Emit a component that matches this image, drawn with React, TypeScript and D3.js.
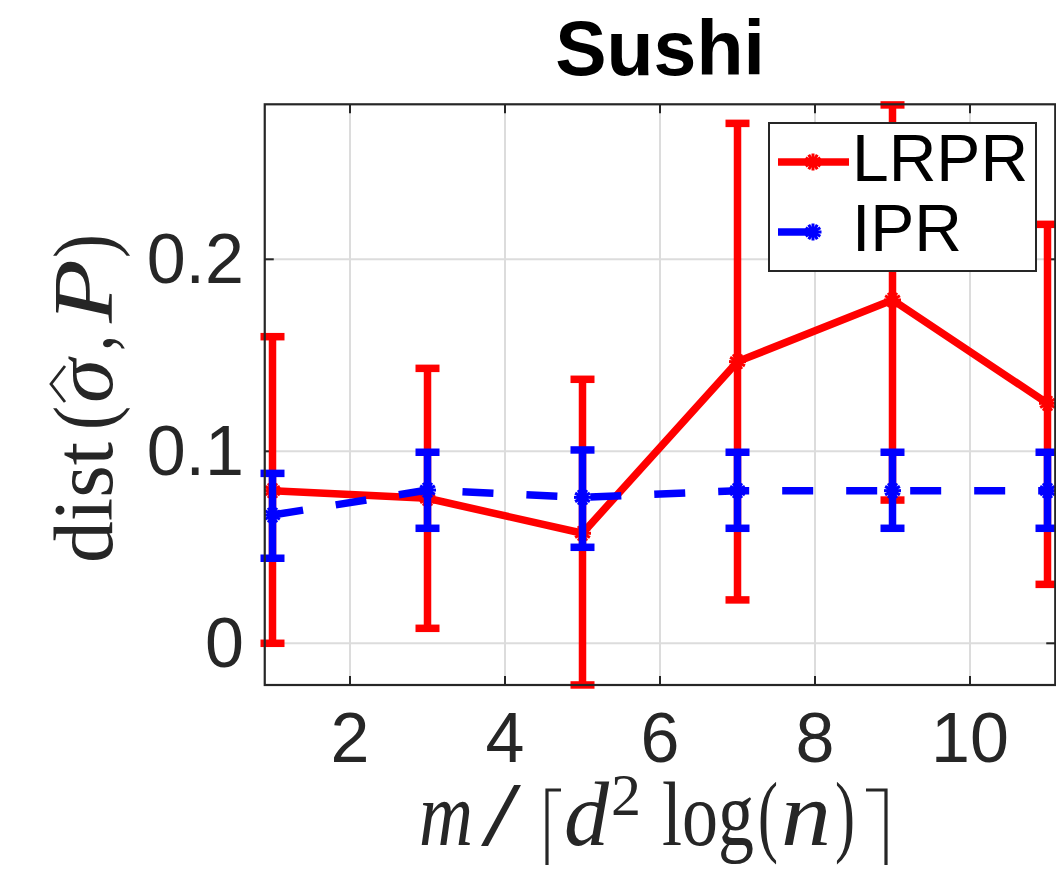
import React from "react";
import * as d3 from "d3";

const xs = [1, 3, 5, 7, 9, 11];
const lrprMean = [0.0795, 0.0755, 0.0573, 0.1467, 0.1788, 0.125];
const lrprLow = [0.0, 0.0078, -0.0217, 0.0226, 0.0746, 0.0307];
const lrprHigh = [0.1597, 0.1432, 0.1375, 0.2708, 0.2804, 0.2182];
const iprMean = [0.0668, 0.0798, 0.076, 0.0795, 0.0795, 0.0795];
const iprLow = [0.0443, 0.0599, 0.05, 0.0599, 0.0599, 0.0599];
const iprHigh = [0.0885, 0.0995, 0.1007, 0.0995, 0.0995, 0.0995];
const xTicks = [2, 4, 6, 8, 10];
const yTicks = [0, 0.1, 0.2];
const yTickLabels = ["0", "0.1", "0.2"];
const seriesNames = ["LRPR", "IPR"];

const W = 1056;
const H = 876;
const L = 264.75, R = 1055.25, T = 104.3, B = 685;

const x = d3.scaleLinear().domain([0.9, 11.1]).range([L, R]);
const y = d3.scaleLinear().domain([-0.02172, 0.28073]).range([B, T]);

const AX = "#262626";
const SANS = "'Liberation Sans', Arial, Helvetica, sans-serif";
const SERIF = "'Liberation Serif', 'Times New Roman', serif";

function Star({ cx, cy, color }: { cx: number; cy: number; color: string }) {
  const r = 8.5;
  const angles = [0, 30, 60, 90, 120, 150];
  return (
    <g stroke={color} strokeWidth={3}>
      {angles.map((a) => {
        const rad = (a * Math.PI) / 180;
        return (
          <line key={a} x1={cx - r * Math.cos(rad)} y1={cy - r * Math.sin(rad)} x2={cx + r * Math.cos(rad)} y2={cy + r * Math.sin(rad)} />
        );
      })}
      <circle cx={cx} cy={cy} r={5.5} fill={color} stroke="none" />
    </g>
  );
}

function Series({ mean, low, high, color, dashed }: { mean: number[]; low: number[]; high: number[]; color: string; dashed?: boolean }) {
  const line = d3.line<number>().x((_, i) => x(xs[i])).y((d) => y(d));
  const cap = 12;
  return (
    <g>
      {xs.map((xv, i) => (
        <g key={i} stroke={color} strokeWidth={7.5}>
          <line x1={x(xv)} x2={x(xv)} y1={y(low[i])} y2={y(high[i])} />
          <line x1={x(xv) - cap} x2={x(xv) + cap} y1={y(low[i])} y2={y(low[i])} />
          <line x1={x(xv) - cap} x2={x(xv) + cap} y1={y(high[i])} y2={y(high[i])} />
        </g>
      ))}
      <path d={line(mean) || ""} fill="none" stroke={color} strokeWidth={7.5} strokeDasharray={dashed ? "31,33" : undefined} />
      {xs.map((xv, i) => (
        <Star key={i} cx={x(xv)} cy={y(mean[i])} color={color} />
      ))}
    </g>
  );
}

export default function App() {
  return (
    <div style={{ position: "fixed", left: 0, top: 0, width: W, height: H, background: "#fff" }}>
      <svg width={W} height={H} viewBox={`0 0 ${W} ${H}`} style={{ display: "block" }}>
        <rect x={0} y={0} width={W} height={H} fill="#fff" />
        {/* grid */}
        <g stroke="#dcdcdc" strokeWidth={2}>
          {xTicks.map((t) => (
            <line key={t} x1={x(t)} x2={x(t)} y1={T} y2={B} />
          ))}
          {yTicks.map((t) => (
            <line key={t} x1={L} x2={R} y1={y(t)} y2={y(t)} />
          ))}
        </g>
        {/* ticks */}
        <g stroke={AX} strokeWidth={2}>
          {xTicks.map((t) => (
            <g key={t}>
              <line x1={x(t)} x2={x(t)} y1={B} y2={B - 9} />
              <line x1={x(t)} x2={x(t)} y1={T} y2={T + 9} />
            </g>
          ))}
          {yTicks.map((t) => (
            <g key={t}>
              <line x1={L} x2={L + 9} y1={y(t)} y2={y(t)} />
              <line x1={R} x2={R - 9} y1={y(t)} y2={y(t)} />
            </g>
          ))}
        </g>
        {/* data */}
        <Series mean={lrprMean} low={lrprLow} high={lrprHigh} color="#ff0000" />
        <Series mean={iprMean} low={iprLow} high={iprHigh} color="#0000ff" dashed />
        {/* axes box */}
        <rect x={L} y={T} width={R - L} height={B - T} fill="none" stroke={AX} strokeWidth={2.2} />
        {/* tick labels */}
        <g fill={AX} fontFamily={SANS} fontSize={70}>
          {xTicks.map((t) => (
            <text key={t} x={x(t)} y={762} textAnchor="middle">{t}</text>
          ))}
          {yTicks.map((t, i) => (
            <text key={t} x={244} y={y(t) + 24} textAnchor="end">{yTickLabels[i]}</text>
          ))}
        </g>
        {/* title */}
        <text x={(L + R) / 2} y={75} textAnchor="middle" fontFamily={SANS} fontWeight="bold" fontSize={77} fill="#000">Sushi</text>
        {/* x label: m/⌈d² log(n)⌉ */}
        <path d="M561,790 H547 V865" fill="none" stroke={AX} strokeWidth={3.2} />
        <path d="M866,790 H886 V865" fill="none" stroke={AX} strokeWidth={3.2} />
        <text y={845} fontFamily={SERIF} fontSize={90} fill={AX}>
          <tspan x={419} fontStyle="italic" textLength={54} lengthAdjust="spacingAndGlyphs">m</tspan>
          <tspan x={481} textLength={40} lengthAdjust="spacingAndGlyphs">/</tspan>
          <tspan x={564} fontStyle="italic" textLength={45} lengthAdjust="spacingAndGlyphs">d</tspan>
          <tspan x={611} y={815} fontSize={60}>2</tspan>
          <tspan x={662} y={845} textLength={92} lengthAdjust="spacingAndGlyphs">log</tspan>
          <tspan x={758} textLength={20} lengthAdjust="spacingAndGlyphs">(</tspan>
          <tspan x={781} fontStyle="italic" textLength={50} lengthAdjust="spacingAndGlyphs">n</tspan>
          <tspan x={835} textLength={20} lengthAdjust="spacingAndGlyphs">)</tspan>
        </text>
        {/* y label: dist(σ̂, P) rotated */}
        <g transform="translate(112, 563) rotate(-90)" fontFamily={SERIF} fontSize={84} fill={AX}>
          <path d="M161,-47 L179,-61 L197,-47" fill="none" stroke={AX} strokeWidth={2.8} />
          <text y={0}>
            <tspan x={0} textLength={121} lengthAdjust="spacingAndGlyphs">dist</tspan>
            <tspan x={133} textLength={24} lengthAdjust="spacingAndGlyphs">(</tspan>
            <tspan x={160} fontStyle="italic" textLength={44} lengthAdjust="spacingAndGlyphs">σ</tspan>
            <tspan x={212} textLength={16} lengthAdjust="spacingAndGlyphs">,</tspan>
            <tspan x={240} fontStyle="italic" textLength={64} lengthAdjust="spacingAndGlyphs">P</tspan>
            <tspan x={305} textLength={24} lengthAdjust="spacingAndGlyphs">)</tspan>
          </text>
        </g>
        {/* legend */}
        <g>
          <rect x={769} y={123} width={267} height={148} fill="#fff" stroke={AX} strokeWidth={2} />
          <line x1={778} x2={849} y1={162} y2={162} stroke="#ff0000" strokeWidth={7.5} />
          <Star cx={813} cy={162} color="#ff0000" />
          <line x1={778} x2={813} y1={232} y2={232} stroke="#0000ff" strokeWidth={7.5} />
          <Star cx={813} cy={232} color="#0000ff" />
          <g fontFamily={SANS} fontSize={66} fill="#000">
            <text x={852} y={181}>{seriesNames[0]}</text>
            <text x={852} y={251}>{seriesNames[1]}</text>
          </g>
        </g>
      </svg>
    </div>
  );
}
